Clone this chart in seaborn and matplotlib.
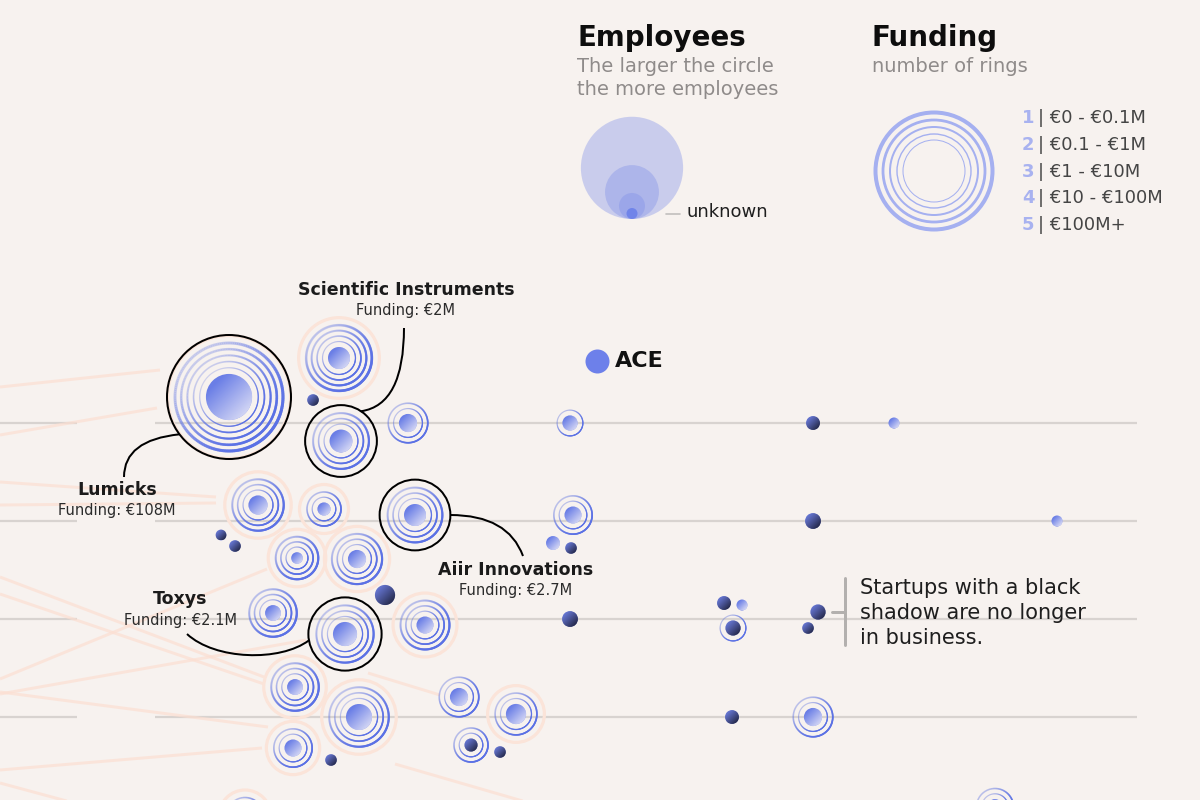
import numpy as np
import pandas as pd
import matplotlib
matplotlib.use("Agg")
import matplotlib.pyplot as plt
import seaborn as sns
from matplotlib.path import Path
from matplotlib.patches import Circle, PathPatch
from matplotlib.collections import LineCollection
from matplotlib.colors import to_rgb

# ---------------------------------------------------------------- data ----
startup_name = ["Lumicks", "", "", "Scientific Instruments", "", "", "", "",
                "", "", "", "", "", "", "", "Aiir Innovations", "", "", "", "",
                "", "", "Toxys", "", "", "", "", "", "", "", "", "", "", "",
                "", "", "", "", "", "", "", ""]
pos_x = [229, 339, 313, 341, 408, 570, 813, 894,
         258, 324, 221, 235, 297, 357, 385, 415, 573, 553, 571, 813,
         1057, 273, 345, 425, 570, 724, 742, 733, 818, 808, 295, 359,
         459, 516, 293, 331, 471, 500, 732, 813, 995, 245]
pos_y = [397, 358, 400, 441, 423, 423, 423, 423,
         505, 509, 535, 546, 558, 559, 595, 515, 515, 543, 548, 521,
         521, 613, 634, 625, 619, 603, 605, 628, 612, 628, 687, 717,
         697, 714, 748, 760, 745, 752, 717, 717, 807, 816]
employees = [110, 25, 7, 27, 17, 12, 10, np.nan,
             19, 9, 6, 7, 7, 17, 21, 25, 15, 10, 7, 13,
             np.nan, 13, 30, 15, 13, 10, np.nan, 12, 12, 7, 13, 35,
             17, 21, 15, 7, 9, 7, 10, 17, 13, 13]
funding_m = [108, 30, np.nan, 2, 0.5, 0.05, np.nan, np.nan,
             4, 0.4, np.nan, np.nan, 3, 5, np.nan, 2.7, 0.6, np.nan, np.nan, np.nan,
             np.nan, 2.5, 2.1, 6, np.nan, np.nan, np.nan, 0.05, np.nan, np.nan, 3, 8,
             0.5, 0.8, 0.5, np.nan, 0.3, np.nan, np.nan, 0.5, 0.5, 0.5]
closed = [0, 0, 1, 0, 0, 0, 1, 0,
          0, 0, 1, 1, 0, 0, 1, 0, 0, 0, 1, 1,
          0, 0, 0, 0, 1, 1, 0, 1, 1, 1, 0, 0,
          0, 0, 0, 1, 1, 1, 1, 0, 0, 0]
campus_link = [1, 1, 0, 0, 0, 0, 0, 0,
               1, 1, 0, 0, 1, 1, 0, 0, 0, 0, 0, 0,
               0, 0, 0, 1, 0, 0, 0, 0, 0, 0, 1, 1,
               0, 1, 1, 0, 0, 0, 0, 0, 0, 1]

row_y = [423, 521, 619, 717]

# feeder lines coming in from the left
link_x0 = [0, 0, 0, 0, 0, 0, 267, 0, 0, 0, 0, 368, 395]
link_y0 = [387, 435, 482, 505, 577, 594, 569, 694, 692, 770, 783, 673, 764]
link_x1 = [160, 157, 216, 216, 264, 264, 0, 306, 268, 262, 100, 440, 640]
link_y1 = [370, 408, 497, 503, 677, 684, 679, 640, 727, 748, 810, 695, 835]

funding_bins = [0.1, 1, 10, 100]
funding_labels = ["€0 - €0.1M", "€0.1 - €1M", "€1 - €10M", "€10 - €100M", "€100M+"]
legend_employees = [540, 150, 35]

ace_x, ace_y = [597], [361]

# --------------------------------------------------------------- styles ---
BG = "#f7f2ef"
BLUE = "#6a7ee6"
RING = "#5b71e5"
PEACH = "#fcdfd2"
HALO = "#fbe4d9"

df = pd.DataFrame(dict(name=startup_name, x=pos_x, y=pos_y, emp=employees,
                       funding=funding_m, closed=closed, link=campus_link))
df["r"] = np.where(df.emp.isna(), 5.5, 2.2 * np.sqrt(df.emp.fillna(0)))
df["rings"] = np.where(df.funding.isna(), 0,
                       np.digitize(df.funding.fillna(0), funding_bins) + 1)
df["status"] = np.where(df.closed == 1, "closed", "active")
df["gap"] = 4.8 + 0.06 * df.r
df["r_out"] = df.r + df.gap * df.rings

sns.set_theme(style="white")
plt.rcParams["font.family"] = ["DejaVu Sans"]

fig = plt.figure(figsize=(12, 8), dpi=100, facecolor=BG)
ax = fig.add_axes([0, 0, 1, 1])
ax.set_xlim(0, 1200)
ax.set_ylim(800, 0)
ax.set_facecolor(BG)
ax.set_axis_off()
PX = 72 / 100  # points per pixel

# row rules
ax.hlines(row_y, 0, 77, color="#d8d3d0", lw=2.2 * PX, zorder=1)
ax.hlines(row_y, 155, 1137, color="#d8d3d0", lw=2.2 * PX, zorder=1)

# feeder lines
for a, b, c, d in zip(link_x0, link_y0, link_x1, link_y1):
    ax.plot([a, c], [b, d], color=PEACH, lw=3 * PX, alpha=0.7,
            solid_capstyle="butt", zorder=1.5)

# halos
for _, s in df[df.link == 1].iterrows():
    ax.add_patch(Circle((s.x, s.y), s.r_out + 7.5, fill=False, ec=HALO,
                        lw=3.2 * PX, zorder=2))

# funding rings with a diagonal fade
theta = np.linspace(0, 2 * np.pi, 181)
ring_rgb = np.array(to_rgb(RING))
for _, s in df[df.rings > 0].iterrows():
    for k in range(1, int(s.rings) + 1):
        rad = s.r + s.gap * k
        pts = np.c_[s.x + rad * np.cos(theta), s.y + rad * np.sin(theta)]
        segs = np.stack([pts[:-1], pts[1:]], axis=1)
        mid = (theta[:-1] + theta[1:]) / 2
        t = (np.cos(mid) + np.sin(mid)) / (2 * np.sqrt(2)) + 0.5
        alpha = 0.14 + 0.86 * t ** 1.5
        cols = np.c_[np.tile(ring_rgb, (len(mid), 1)), alpha]
        lw = (0.8 + 0.45 * k) * PX
        ax.add_collection(LineCollection(segs, colors=cols, linewidths=lw,
                                         capstyle="round", zorder=3))

# core discs
sns.scatterplot(data=df, x="x", y="y", hue="status",
                palette={"active": BLUE, "closed": "#6676d2"},
                s=(2 * df.r * PX) ** 2, linewidth=0, legend=False,
                ax=ax, zorder=4)

# gradient shading on the discs
res = 64
u = np.linspace(0, 1, res)
GX, GY = np.meshgrid(u, u)
ramp = (GX + GY) / 2
light = np.array(to_rgb("#f1eff9"))
dark = np.array(to_rgb("#141526"))
for _, s in df.iterrows():
    rgba = np.zeros((res, res, 4))
    if s.closed:
        rgba[..., :3] = dark
        rgba[..., 3] = np.clip((ramp - 0.15) / 0.85, 0, 1) ** 1.1 * 0.97
    else:
        rgba[..., :3] = light
        rgba[..., 3] = np.clip((ramp - 0.2) / 0.8, 0, 1) * 0.95
    im = ax.imshow(rgba, extent=(s.x - s.r, s.x + s.r, s.y + s.r, s.y - s.r),
                   origin="upper", interpolation="bilinear", aspect="auto",
                   zorder=5)
    im.set_clip_path(Circle((s.x, s.y), s.r, transform=ax.transData))

# highlighted startups: outline, connector, label
callouts = {
    "Lumicks": dict(text=(117, 490), angle=143, ctrl=[(124, 440)], end=(124, 477)),
    "Scientific Instruments": dict(text=(406, 290), angle=-56, ctrl=[(404, 405)], end=(404, 328)),
    "Aiir Innovations": dict(text=(516, 570), angle=0, ctrl=[(508, 515)], end=(523, 556)),
    "Toxys": dict(text=(180, 599), angle=170, ctrl=[(280, 662), (215, 660)], end=(187, 634)),
}
for nm, c in callouts.items():
    s = df[df.name == nm].iloc[0]
    R = s.r_out + 8
    ax.add_patch(Circle((s.x, s.y), R, fill=False, ec="black", lw=2 * PX, zorder=6))
    a = np.deg2rad(c["angle"])
    p0 = (s.x + R * np.cos(a), s.y + R * np.sin(a))
    verts = [p0] + c["ctrl"] + [c["end"]]
    codes = [Path.MOVETO] + ([Path.CURVE3] * 2 if len(c["ctrl"]) == 1 else [Path.CURVE4] * 3)
    ax.add_patch(PathPatch(Path(verts, codes), fill=False, ec="black",
                           lw=2 * PX, zorder=6))
    tx, ty = c["text"]
    ax.text(tx, ty, nm, ha="center", va="center", fontsize=12.5,
            fontweight="bold", color="#1b1b1b", zorder=7)
    ax.text(tx, ty + 21, f"Funding: €{s.funding:g}M", ha="center", va="center",
            fontsize=10.5, color="#2b2b2b", zorder=7)

# ACE group marker
ax.scatter(ace_x, ace_y, s=(24 * PX) ** 2, color="#6d80ea", linewidth=0, zorder=6)
ax.text(ace_x[0] + 18, ace_y[0], "ACE", ha="left", va="center", fontsize=16,
        fontweight="heavy", color="#111111")

# note on closed startups
ax.plot([845, 845], [578, 645], color="#b3b0ae", lw=3 * PX, zorder=6)
ax.plot([832, 845], [612, 612], color="#b3b0ae", lw=3 * PX, zorder=6)
for i, line in enumerate(["Startups with a black", "shadow are no longer",
                          "in business."]):
    ax.text(860, 588 + 25 * i, line, ha="left", va="center", fontsize=15,
            color="#1e1e1e", zorder=7)

# ---- legend: employees
ax.text(577, 46, "Employees", ha="left", va="baseline", fontsize=20,
        fontweight="heavy", color="#0d0d0d")
ax.text(577, 72, "The larger the circle", ha="left", va="baseline",
        fontsize=14, color="#8f8b8a")
ax.text(577, 95, "the more employees", ha="left", va="baseline",
        fontsize=14, color="#8f8b8a")
base_y = 219
for e in legend_employees:
    r = 2.2 * np.sqrt(e)
    ax.add_patch(Circle((632, base_y - r), r, color="#8090e8", alpha=0.38, lw=0))
ax.add_patch(Circle((632, base_y - 5.5), 5.5, color="#6c81ea", alpha=0.9, lw=0))
ax.plot([666, 680], [214, 214], color="#c2bfbd", lw=1.2)
ax.text(687, 212, "unknown", ha="left", va="center", fontsize=13, color="#1f1f1f")

# ---- legend: funding
ax.text(872, 46, "Funding", ha="left", va="baseline", fontsize=20,
        fontweight="heavy", color="#0d0d0d")
ax.text(872, 72, "number of rings", ha="left", va="baseline", fontsize=14,
        color="#8f8b8a")
leg_r = [31, 37, 44, 51, 58.5]
leg_w = [1.0, 1.4, 2.0, 2.8, 4.0]
for r, w in zip(leg_r, leg_w):
    ax.add_patch(Circle((934, 171), r, fill=False, ec="#a5b0f0", lw=w * PX))
for i, lab in enumerate(funding_labels):
    yy = 118 + 26.8 * i
    ax.text(1022, yy, str(i + 1), ha="left", va="center", fontsize=13,
            fontweight="bold", color="#a8b2f0")
    ax.text(1038, yy, "| " + lab, ha="left", va="center", fontsize=13,
            color="#454545")

fig.savefig("out.png", dpi=100, facecolor=BG)
